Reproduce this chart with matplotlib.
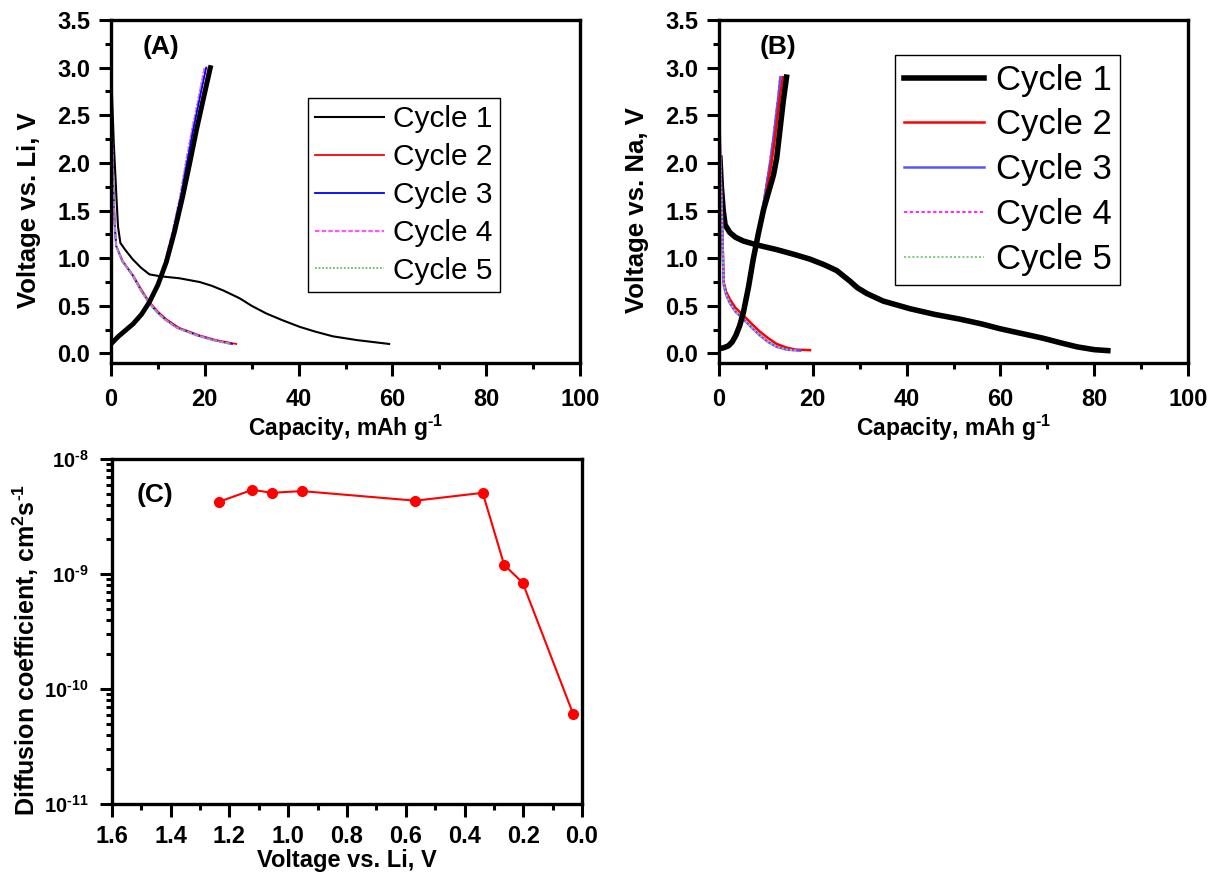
import numpy
import matplotlib
matplotlib.use("Agg")
import matplotlib.pyplot as plt
from matplotlib.ticker import MultipleLocator, LogLocator, NullFormatter, FuncFormatter

plt.rcParams['font.family'] = ['Liberation Sans', 'DejaVu Sans']
plt.rcParams['font.weight'] = 'bold'
plt.rcParams['mathtext.fontset'] = 'custom'
plt.rcParams['mathtext.rm'] = 'Liberation Sans'
plt.rcParams['mathtext.bf'] = 'Liberation Sans:bold'
plt.rcParams['mathtext.default'] = 'bf'

# ---- panel A : Li cell, charge/discharge ----
a_dis1_x = [0.0, 0.3, 0.6, 0.9, 1.2, 1.5, 2.0, 3.0, 4.6, 6.4, 8.2, 10.5, 14.5, 18.9, 21.5, 24.0, 27.4, 30.0, 33.1, 36.5, 40.2, 43.5, 47.3, 52.5, 59.3]
a_dis1_y = [3.0, 2.6, 2.2, 1.9, 1.6, 1.33, 1.16, 1.09, 0.99, 0.90, 0.83, 0.81, 0.79, 0.75, 0.71, 0.66, 0.58, 0.50, 0.42, 0.35, 0.28, 0.23, 0.18, 0.14, 0.10]
a_ch1_x = [0.0, 1.6, 4.7, 6.5, 8.2, 10.0, 11.8, 13.5, 15.3, 16.8, 18.2, 19.6, 21.2]
a_ch1_y = [0.10, 0.18, 0.31, 0.41, 0.54, 0.72, 0.96, 1.27, 1.65, 2.0, 2.34, 2.65, 3.0]

a_dis2_x = [0.0, 0.1, 0.3, 0.5, 0.8, 1.1, 2.5, 4.7, 6.5, 8.2, 10.0, 11.8, 14.5, 18.9, 22.5, 26.7]
a_dis2_y = [3.0, 2.5, 2.1, 1.72, 1.35, 1.13, 0.97, 0.82, 0.67, 0.54, 0.44, 0.36, 0.27, 0.19, 0.14, 0.10]
a_ch2_x = [0.0, 1.6, 4.7, 6.5, 8.2, 10.0, 11.8, 13.5, 15.3, 16.7, 18.0, 19.3, 20.8]
a_ch2_y = [0.10, 0.18, 0.31, 0.41, 0.54, 0.72, 0.96, 1.27, 1.65, 2.0, 2.34, 2.65, 3.0]

a_dis3_x = [0.0, 0.1, 0.3, 0.5, 0.8, 1.1, 2.4, 4.6, 6.3, 8.0, 9.7, 11.5, 14.1, 18.4, 21.9, 25.8]
a_dis3_y = [3.0, 2.5, 2.1, 1.72, 1.35, 1.13, 0.97, 0.82, 0.67, 0.54, 0.44, 0.36, 0.27, 0.19, 0.14, 0.10]
a_ch3_x = [0.0, 1.6, 4.7, 6.5, 8.2, 9.9, 11.6, 13.2, 14.9, 16.2, 17.5, 18.8, 20.3]
a_ch3_y = [0.10, 0.18, 0.31, 0.41, 0.54, 0.72, 0.96, 1.27, 1.65, 2.0, 2.34, 2.65, 3.0]

a_dis4_x = [0.0, 0.1, 0.3, 0.5, 0.8, 1.1, 2.4, 4.6, 6.3, 8.0, 9.7, 11.4, 14.0, 18.3, 21.8, 25.6]
a_dis4_y = [3.0, 2.5, 2.1, 1.72, 1.35, 1.13, 0.97, 0.82, 0.67, 0.54, 0.44, 0.36, 0.27, 0.19, 0.14, 0.10]
a_ch4_x = [0.0, 1.6, 4.7, 6.5, 8.2, 9.9, 11.5, 13.1, 14.8, 16.0, 17.3, 18.6, 20.0]
a_ch4_y = [0.10, 0.18, 0.31, 0.41, 0.54, 0.72, 0.96, 1.27, 1.65, 2.0, 2.34, 2.65, 3.0]

a_dis5_x = [0.0, 0.1, 0.3, 0.5, 0.8, 1.1, 2.4, 4.6, 6.3, 8.0, 9.7, 11.4, 14.0, 18.3, 21.8, 25.5]
a_dis5_y = [3.0, 2.5, 2.1, 1.72, 1.35, 1.13, 0.97, 0.82, 0.67, 0.54, 0.44, 0.36, 0.27, 0.19, 0.14, 0.10]
a_ch5_x = [0.0, 1.6, 4.7, 6.5, 8.2, 9.9, 11.5, 13.1, 14.7, 15.9, 17.2, 18.5, 19.9]
a_ch5_y = [0.10, 0.18, 0.31, 0.41, 0.54, 0.72, 0.96, 1.27, 1.65, 2.0, 2.34, 2.65, 3.0]

# ---- panel B : Na cell ----
b_dis1_x = [0.2, 0.5, 0.9, 1.3, 2.3, 3.5, 5.2, 8.0, 12.3, 16.0, 19.4, 22.5, 25.1, 27.9, 29.5, 31.5, 35.0, 40.7, 46.0, 51.4, 56.0, 59.9, 64.5, 69.1, 73.0, 76.3, 80.0, 82.9]
b_dis1_y = [2.05, 1.75, 1.5, 1.35, 1.27, 1.22, 1.18, 1.14, 1.09, 1.04, 0.99, 0.93, 0.87, 0.76, 0.69, 0.63, 0.55, 0.47, 0.41, 0.36, 0.31, 0.26, 0.21, 0.16, 0.11, 0.07, 0.04, 0.03]
b_ch1_x = [0.0, 1.0, 2.0, 2.8, 3.6, 4.4, 5.2, 6.3, 7.3, 8.4, 9.5, 10.6, 11.6, 12.3, 13.0, 13.7, 14.4]
b_ch1_y = [0.05, 0.06, 0.08, 0.12, 0.19, 0.29, 0.43, 0.70, 0.99, 1.26, 1.51, 1.70, 1.87, 2.05, 2.35, 2.65, 2.9]

b_dis2_x = [0.0, 0.2, 0.4, 0.6, 0.8, 1.0, 1.5, 2.3, 3.5, 5.2, 7.0, 8.7, 10.5, 12.3, 14.5, 16.5, 19.4]
b_dis2_y = [2.8, 2.2, 1.8, 1.5, 1.1, 0.75, 0.65, 0.57, 0.48, 0.40, 0.31, 0.23, 0.16, 0.10, 0.06, 0.04, 0.035]
b_ch2_x = [0.0, 1.0, 2.0, 2.8, 3.6, 4.4, 5.2, 6.3, 7.3, 8.4, 9.4, 10.3, 11.2, 11.9, 12.5, 13.0, 13.6]
b_ch2_y = [0.05, 0.06, 0.08, 0.12, 0.19, 0.29, 0.43, 0.70, 0.99, 1.26, 1.51, 1.75, 2.0, 2.25, 2.5, 2.7, 2.9]

b_dis3_x = [0.0, 0.2, 0.4, 0.6, 0.8, 1.0, 1.5, 2.3, 3.5, 5.2, 7.0, 8.7, 10.5, 12.3, 14.5, 17.3]
b_dis3_y = [2.8, 2.2, 1.8, 1.5, 1.1, 0.72, 0.62, 0.53, 0.44, 0.36, 0.27, 0.19, 0.12, 0.07, 0.04, 0.03]
b_ch3_x = [0.0, 1.0, 2.0, 2.8, 3.6, 4.4, 5.2, 6.3, 7.3, 8.3, 9.3, 10.1, 10.9, 11.6, 12.2, 12.7, 13.1]
b_ch3_y = [0.05, 0.06, 0.08, 0.12, 0.19, 0.29, 0.43, 0.70, 0.99, 1.26, 1.51, 1.75, 2.0, 2.25, 2.5, 2.7, 2.9]

b_dis4_x = [0.0, 0.2, 0.4, 0.6, 0.8, 1.0, 1.5, 2.3, 3.5, 5.2, 7.0, 8.7, 10.5, 12.3, 14.5, 17.0]
b_dis4_y = [2.8, 2.2, 1.8, 1.5, 1.1, 0.72, 0.62, 0.53, 0.44, 0.36, 0.27, 0.19, 0.12, 0.07, 0.04, 0.03]
b_ch4_x = [0.0, 1.0, 2.0, 2.8, 3.6, 4.4, 5.2, 6.3, 7.3, 8.3, 9.2, 10.0, 10.8, 11.5, 12.1, 12.6, 13.0]
b_ch4_y = [0.05, 0.06, 0.08, 0.12, 0.19, 0.29, 0.43, 0.70, 0.99, 1.26, 1.51, 1.75, 2.0, 2.25, 2.5, 2.7, 2.9]

b_dis5_x = [0.0, 0.2, 0.4, 0.6, 0.8, 1.0, 1.5, 2.3, 3.5, 5.2, 7.0, 8.7, 10.5, 12.3, 14.5, 16.9]
b_dis5_y = [2.8, 2.2, 1.8, 1.5, 1.1, 0.72, 0.62, 0.53, 0.44, 0.36, 0.27, 0.19, 0.12, 0.07, 0.04, 0.03]
b_ch5_x = [0.0, 1.0, 2.0, 2.8, 3.6, 4.4, 5.2, 6.3, 7.3, 8.3, 9.2, 10.0, 10.8, 11.5, 12.1, 12.6, 13.0]
b_ch5_y = [0.05, 0.06, 0.08, 0.12, 0.19, 0.29, 0.43, 0.70, 0.99, 1.26, 1.51, 1.75, 2.0, 2.25, 2.5, 2.7, 2.9]

# ---- panel C : diffusion coefficient ----
c_volt = [1.235, 1.122, 1.056, 0.954, 0.567, 0.338, 0.265, 0.202, 0.030]
c_diff = [4.25e-9, 5.4e-9, 5.08e-9, 5.26e-9, 4.34e-9, 5.08e-9, 1.2e-9, 8.4e-10, 6.05e-11]

labels = ['Cycle 1', 'Cycle 2', 'Cycle 3', 'Cycle 4', 'Cycle 5']

W, H = 1212, 880
fig = plt.figure(figsize=(W/100, H/100), dpi=100)

def box(l, t, r, b):
    return [l/W, 1-b/H, (r-l)/W, (b-t)/H]

axA = fig.add_axes(box(111, 20, 580, 363))
axB = fig.add_axes(box(719, 20, 1188, 363))
axC = fig.add_axes(box(112, 459, 582, 804))

def style(ax, xpad):
    for s in ax.spines.values():
        s.set_linewidth(2.4)
    ax.tick_params(which='both', top=False, right=False, direction='out', width=2.2, labelsize=17, pad=6)
    ax.tick_params(axis='x', which='both', pad=xpad)
    ax.tick_params(which='major', length=9)
    ax.tick_params(which='minor', length=4)
    ax.yaxis.set_label_coords(-0.15, 0.446)

xlab = 'Capacity, mAh g$^{\\text{-}1}$'

# panel A
sA = [dict(color='black', lw=1.5), dict(color='red', lw=1.3), dict(color='blue', lw=1.3),
      dict(color='#ff55ff', lw=1.6, ls=(0, (2, 1))), dict(color='#66bb66', lw=1.3, ls=(0, (1, 1)))]
disA = [(a_dis1_x, a_dis1_y), (a_dis2_x, a_dis2_y), (a_dis3_x, a_dis3_y), (a_dis4_x, a_dis4_y), (a_dis5_x, a_dis5_y)]
chA = [(a_ch1_x, a_ch1_y), (a_ch2_x, a_ch2_y), (a_ch3_x, a_ch3_y), (a_ch4_x, a_ch4_y), (a_ch5_x, a_ch5_y)]
for i in range(5):
    axA.plot(disA[i][0], disA[i][1], label=labels[i], **sA[i])
for i in range(4, -1, -1):
    st = dict(sA[i])
    if i == 0:
        st['lw'] = 3.5
    axA.plot(chA[i][0], chA[i][1], **st)
axA.set_xlim(0, 100)
axA.set_ylim(-0.1, 3.5)
axA.xaxis.set_major_locator(MultipleLocator(20))
axA.xaxis.set_minor_locator(MultipleLocator(10))
axA.yaxis.set_major_locator(MultipleLocator(0.5))
axA.yaxis.set_minor_locator(MultipleLocator(0.25))
axA.set_xlabel(xlab, fontsize=16.5, fontweight='bold', labelpad=1)
axA.set_ylabel('Voltage vs. Li, V', fontsize=18.5, fontweight='bold')
axA.text(10.7, 3.22, '(A)', fontsize=19, fontweight='bold', ha='center', va='center')
style(axA, 9)
axA.legend(loc='upper left', bbox_to_anchor=(308/W, 1-98/H), bbox_transform=fig.transFigure,
           borderaxespad=0, prop={'weight': 'normal', 'size': 21.5},
           handlelength=2.3, handletextpad=0.3, borderpad=0.25, labelspacing=0.33,
           fancybox=False, edgecolor='black', framealpha=1).get_frame().set_linewidth(1.0)

# panel B
sB = [dict(color='black', lw=4.0), dict(color='red', lw=1.8), dict(color='#5555ff', lw=1.8),
      dict(color='#ff00ff', lw=1.2, ls=(0, (2, 1.5))), dict(color='#88cc88', lw=1.5, ls=(0, (1, 1)))]
disB = [(b_dis1_x, b_dis1_y), (b_dis2_x, b_dis2_y), (b_dis3_x, b_dis3_y), (b_dis4_x, b_dis4_y), (b_dis5_x, b_dis5_y)]
chB = [(b_ch1_x, b_ch1_y), (b_ch2_x, b_ch2_y), (b_ch3_x, b_ch3_y), (b_ch4_x, b_ch4_y), (b_ch5_x, b_ch5_y)]
for i in range(5):
    axB.plot(disB[i][0], disB[i][1], label=labels[i], **sB[i])
for i in range(4, -1, -1):
    axB.plot(chB[i][0], chB[i][1], **sB[i])
axB.set_xlim(0, 100)
axB.set_ylim(-0.1, 3.5)
axB.xaxis.set_major_locator(MultipleLocator(20))
axB.xaxis.set_minor_locator(MultipleLocator(10))
axB.yaxis.set_major_locator(MultipleLocator(0.5))
axB.yaxis.set_minor_locator(MultipleLocator(0.25))
axB.set_xlabel(xlab, fontsize=16.5, fontweight='bold', labelpad=1)
axB.set_ylabel('Voltage vs. Na, V', fontsize=18.5, fontweight='bold')
axB.text(12.6, 3.22, '(B)', fontsize=19, fontweight='bold', ha='center', va='center')
style(axB, 9)
axB.legend(loc='upper left', bbox_to_anchor=(895/W, 1-55/H), bbox_transform=fig.transFigure,
           borderaxespad=0, prop={'weight': 'normal', 'size': 25},
           handlelength=2.3, handletextpad=0.35, borderpad=0.25, labelspacing=0.34,
           fancybox=False, edgecolor='black', framealpha=1).get_frame().set_linewidth(1.0)

# panel C
axC.plot(c_volt, c_diff, color='red', lw=1.5, marker='o', ms=7)
axC.set_yscale('log')
axC.set_xlim(1.6, 0.0)
axC.set_ylim(1e-11, 1e-8)
axC.xaxis.set_major_locator(MultipleLocator(0.2))
axC.xaxis.set_minor_locator(MultipleLocator(0.1))
axC.yaxis.set_major_locator(LogLocator(base=10, numticks=10))
axC.yaxis.set_minor_locator(LogLocator(base=10, subs=numpy.arange(2, 10), numticks=20))
axC.yaxis.set_minor_formatter(NullFormatter())
axC.yaxis.set_major_formatter(FuncFormatter(lambda v, p: r'$10^{\text{-}%d}$' % round(-numpy.log10(v))))
axC.xaxis.set_major_formatter(FuncFormatter(lambda v, p: '%.1f' % abs(v)))
axC.set_xlabel('Voltage vs. Li, V', fontsize=17, fontweight='bold', labelpad=1)
axC.set_ylabel('Diffusion coefficient, cm$^{2}$s$^{\\text{-}1}$', fontsize=18, fontweight='bold')
axC.text(0.091, 0.896, '(C)', transform=axC.transAxes, fontsize=19, fontweight='bold', ha='center', va='center')
style(axC, 6)
axC.tick_params(axis='y', which='major', labelsize=14.5, pad=8)

fig.savefig('out.png', dpi=100)
